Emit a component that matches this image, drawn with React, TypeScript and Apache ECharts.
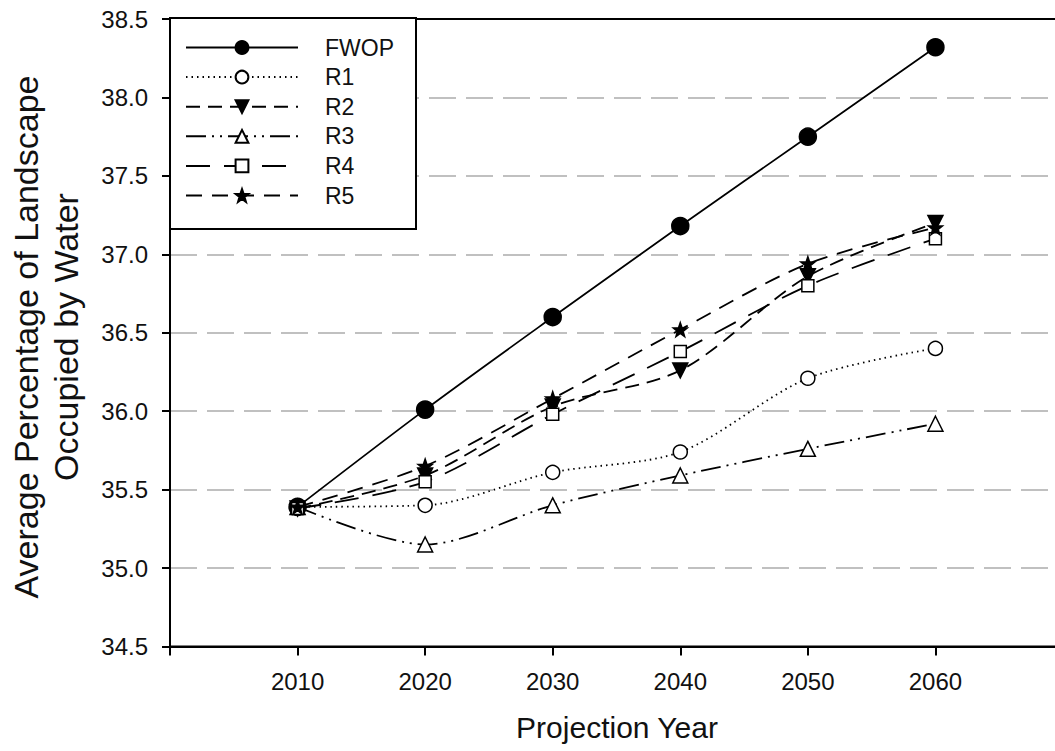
import React, { useEffect, useRef } from "react";
import * as echarts from "echarts";

const years = [2010, 2020, 2030, 2040, 2050, 2060];
const seriesNames = ["FWOP", "R1", "R2", "R3", "R4", "R5"];
const fwop = [35.39, 36.01, 36.6, 37.18, 37.75, 38.32];
const r1 = [35.39, 35.4, 35.61, 35.74, 36.21, 36.4];
const r2 = [35.38, 35.59, 36.03, 36.26, 36.86, 37.2];
const r3 = [35.39, 35.15, 35.4, 35.59, 35.76, 35.92];
const r4 = [35.38, 35.55, 35.98, 36.38, 36.8, 37.1];
const r5 = [35.39, 35.65, 36.08, 36.52, 36.94, 37.17];
const yTicks = [34.5, 35.0, 35.5, 36.0, 36.5, 37.0, 37.5, 38.0, 38.5];

const STAR =
  "path://M0,-10L2.35,-3.24L9.51,-3.09L3.8,1.24L5.88,8.09L0,4L-5.88,8.09L-3.8,1.24L-9.51,-3.09L-2.35,-3.24Z";

const pts = (vals: number[]) => years.map((y, i) => [y, vals[i]]);

export default function App() {
  const ref = useRef<HTMLDivElement>(null);
  useEffect(() => {
    document.body.style.margin = "0";
    const chart = echarts.init(ref.current!, null, { renderer: "svg" });
    const font = "Liberation Sans, Arial, sans-serif";
    const mk = (
      name: string,
      vals: number[],
      symbol: string,
      size: number,
      fill: string,
      dash: any,
      rotate = 0
    ) => ({
      name,
      type: "line",
      data: pts(vals),
      smooth: 0.3,
      symbol,
      symbolSize: size,
      symbolRotate: rotate,
      showAllSymbol: true,
      lineStyle: { color: "#000", width: 1.8, type: dash },
      itemStyle: { color: fill, borderColor: "#000", borderWidth: 1.5 },
      z: 5,
    });
    chart.setOption({
      animation: false,
      backgroundColor: "#fff",
      grid: {
        left: 170,
        top: 19,
        width: 893,
        height: 627.5,
        show: true,
        borderColor: "#000",
        borderWidth: 2,
        backgroundColor: "transparent",
        outerBoundsMode: "none",
        containLabel: false,
      },
      xAxis: {
        type: "value",
        min: 2000,
        max: 2070,
        interval: 10,
        axisLine: { lineStyle: { color: "#000", width: 2 } },
        axisTick: { show: true, length: 9, lineStyle: { color: "#000", width: 2 } },
        axisLabel: {
          margin: 23,
          fontSize: 24,
          color: "#111",
          fontFamily: font,
          formatter: (v: number) => (years.indexOf(v) >= 0 ? String(v) : ""),
        },
        splitLine: { show: false },
      },
      yAxis: {
        type: "value",
        min: yTicks[0],
        max: yTicks[yTicks.length - 1],
        interval: 0.5,
        axisLine: { show: true, lineStyle: { color: "#000", width: 2 } },
        axisTick: { show: true, length: 8, lineStyle: { color: "#000", width: 2 } },
        axisLabel: {
          margin: 22,
          fontSize: 24,
          color: "#111",
          fontFamily: font,
          formatter: (v: number) => v.toFixed(1),
        },
        splitLine: {
          show: true,
          showMinLine: false,
          showMaxLine: false,
          lineStyle: { color: "#c0c0c0", width: 2, type: [27, 10] },
        },
      },
      legend: {
        data: seriesNames,
        orient: "vertical",
        left: 185,
        top: 36,
        padding: 0,
        itemWidth: 112,
        itemHeight: 16,
        itemGap: 6.6,
        z: 10,
        textStyle: {
          fontSize: 23,
          lineHeight: 22,
          color: "#111",
          fontFamily: font,
          padding: [0, 0, 0, 22],
        },
      },
      graphic: [
        {
          type: "rect",
          z: 8,
          shape: { x: 170, y: 18, width: 246, height: 211 },
          style: { fill: "#fff", stroke: "#000", lineWidth: 2 },
        },
        {
          type: "text",
          x: 26,
          y: 337,
          rotation: Math.PI / 2,
          style: {
            text: "Average Percentage of Landscape",
            font: `34px ${font}`,
            fill: "#111",
            textAlign: "center",
            textVerticalAlign: "middle",
          },
        },
        {
          type: "text",
          x: 66,
          y: 337,
          rotation: Math.PI / 2,
          style: {
            text: "Occupied by Water",
            font: `34px ${font}`,
            fill: "#111",
            textAlign: "center",
            textVerticalAlign: "middle",
          },
        },
        {
          type: "text",
          x: 617,
          y: 727,
          style: {
            text: "Projection Year",
            font: `30px ${font}`,
            fill: "#111",
            textAlign: "center",
            textVerticalAlign: "middle",
          },
        },
      ],
      series: [
        mk("FWOP", fwop, "circle", 17, "#000", "solid"),
        mk("R1", r1, "circle", 14, "#fff", [1.5, 4]),
        mk("R2", r2, "triangle", 15, "#000", [14, 8], 180),
        mk("R3", r3, "triangle", 15, "#fff", [20, 6, 2, 6, 2, 6]),
        mk("R4", r4, "rect", 12, "#fff", [24, 14]),
        mk("R5", r5, STAR, 14, "#000", [16, 10]),
      ],
    });
    return () => chart.dispose();
  }, []);
  return (
    <div
      ref={ref}
      style={{ position: "absolute", left: 0, top: 0, width: 1055, height: 751 }}
    />
  );
}
